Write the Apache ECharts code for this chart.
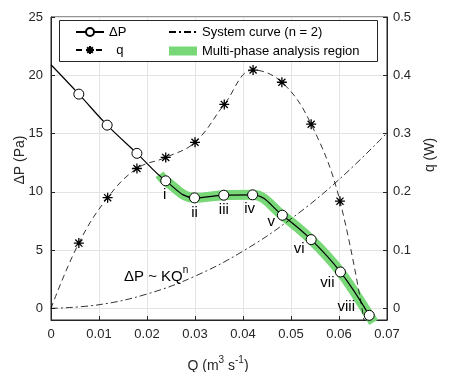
<!DOCTYPE html>
<html>
<head>
<meta charset="utf-8">
<script src="https://cdn.jsdelivr.net/npm/echarts@6/dist/echarts.min.js"></script>
<style>html,body{margin:0;padding:0;background:#fff}#c{width:450px;height:372px}</style>
</head>
<body>
<div id="c"></div>
<script>
// Flow rate Q (m^3 s^-1) and pressure difference ΔP (Pa)
var dpQ = [0, 0.0058, 0.0117, 0.0179, 0.0239, 0.0299, 0.0360, 0.0420, 0.0482, 0.0542, 0.0603, 0.0663];
var dpVal = [20.9, 18.38, 15.72, 13.3, 10.94, 9.48, 9.71, 9.74, 7.99, 5.9, 3.12, -0.6];
var phaseLabels = ['', '', '', '', 'i', 'ii', 'iii', 'iv', 'v', 'vi', 'vii', 'viii'];
// Heat q (W)
var qQ = [0, 0.0058, 0.0118, 0.0179, 0.0239, 0.0300, 0.0361, 0.0421, 0.0481, 0.0542, 0.0602, 0.0662];
var qVal = [0, 0.112, 0.19, 0.24, 0.259, 0.285, 0.35, 0.409, 0.388, 0.316, 0.184, -0.07];
// System curve (n = 2)
var sysQ = [0, 0.01, 0.02, 0.03, 0.04, 0.05, 0.06, 0.07];
var sysVal = [0, 0.31, 1.23, 2.76, 4.91, 7.68, 11.05, 15.05];
// Multi-phase analysis region (band)
var bandQ = [0.0226, 0.0239, 0.0299, 0.0360, 0.0420, 0.0482, 0.0542, 0.0603, 0.0663, 0.0672];
var bandVal = [11.5, 10.94, 9.48, 9.71, 9.74, 7.99, 5.9, 3.12, -0.6, -1.2];
// Tick labels
var leftTicks = [0, 5, 10, 15, 20, 25];
var rightTicks = [0, 0.1, 0.2, 0.3, 0.4, 0.5];

var FONT = 'Liberation Sans, Arial, Helvetica, sans-serif';
var INK = '#262626';
var GREEN = '#78d878';

// label offsets for the roman numerals (position only)
var lblOff = {
  'i': [-1, 14], 'ii': [0, 15], 'iii': [0, 15], 'iv': [-3, 14],
  'v': [-11, 7], 'vi': [-12, 9], 'vii': [-13, 11], 'viii': [-23, -8]
};

var dpData = dpQ.map(function (q, i) {
  var item = { value: [q, dpVal[i]] };
  if (i === 0) item.symbol = 'none';
  var l = phaseLabels[i];
  if (l) {
    item.label = { show: true, formatter: l, position: 'inside', offset: lblOff[l],
      color: '#000', fontSize: 15, fontFamily: FONT };
  }
  return item;
});
var qData = qQ.map(function (q, i) {
  return { value: [q, qVal[i]], symbol: i === 0 || i === qQ.length - 1 ? 'none' : undefined };
});
var sysData = sysQ.map(function (q, i) { return [q, sysVal[i]]; });
var bandData = bandQ.map(function (q, i) { return [q, bandVal[i]]; });

var ASTER = 'path://M5,0L5,10M0,5L10,5M1.46,1.46L8.54,8.54M1.46,8.54L8.54,1.46';

var chart = echarts.init(document.getElementById('c'), null, { renderer: 'canvas' });
chart.setOption({
  animation: false,
  textStyle: { fontFamily: FONT },
  grid: { left: 51, right: 63, top: 17, bottom: 52, show: true, borderColor: INK, borderWidth: 1, backgroundColor: 'transparent' },
  legend: [
    { left: 75, top: 25, padding: 0, orient: 'vertical', align: 'left', itemWidth: 28, itemHeight: 10, itemGap: 4,
      textStyle: { fontSize: 13, color: '#000', lineHeight: 14, fontFamily: FONT },
      formatter: function (n) { return n === 'q' ? '  q' : n; },
      data: ['ΔP', 'q'] },
    { left: 168, top: 25, padding: 0, orient: 'vertical', align: 'left', itemWidth: 28, itemHeight: 9, itemGap: 5,
      textStyle: { fontSize: 13, color: '#000', lineHeight: 14, fontFamily: FONT },
      data: [{ name: 'System curve (n = 2)', itemStyle: { opacity: 0 } },
             { name: 'Multi-phase analysis region', icon: 'rect' }] }
  ],
  graphic: [
    { type: 'rect', z: 3, shape: { x: 59.5, y: 20.5, width: 318, height: 41 },
      style: { fill: '#fff', stroke: INK, lineWidth: 1 } },
    { type: 'text', x: 20, y: 160, rotation: Math.PI / 2, z: 5,
      style: { text: 'ΔP (Pa)', fontSize: 14, fontFamily: FONT, fill: INK, align: 'center', verticalAlign: 'middle' } },
    { type: 'text', x: 430, y: 155, rotation: Math.PI / 2, z: 5,
      style: { text: 'q (W)', fontSize: 14, fontFamily: FONT, fill: INK, align: 'center', verticalAlign: 'middle' } },
    { type: 'text', x: 218, y: 355, z: 5,
      style: { text: '{a|Q (m}{s|3}{a| s}{s|-1}{a|)}', align: 'center', verticalAlign: 'top', fill: INK,
        rich: { a: { fontSize: 14, fontFamily: FONT, color: INK, lineHeight: 18, verticalAlign: 'bottom' },
                s: { fontSize: 10, fontFamily: FONT, color: INK, lineHeight: 11, verticalAlign: 'top' } } } },
    { type: 'text', x: 124, y: 265, z: 5,
      style: { text: '{a|ΔP ~ KQ}{s|n}', align: 'left', verticalAlign: 'top', fill: '#000',
        rich: { a: { fontSize: 15, fontFamily: FONT, color: '#000', lineHeight: 19, verticalAlign: 'bottom' },
                s: { fontSize: 10, fontFamily: FONT, color: '#000', lineHeight: 11, verticalAlign: 'top' } } } }
  ],
  xAxis: {
    type: 'value', min: 0, max: 0.07, interval: 0.01,
    axisLine: { show: true, onZero: false, lineStyle: { color: INK, width: 1 } },
    axisTick: { show: true, inside: true, length: 4, lineStyle: { color: INK } },
    axisLabel: { fontSize: 13, color: INK, margin: 8, fontFamily: FONT,
      formatter: function (v) { return v === 0 ? '0' : v.toFixed(2); } },
    splitLine: { show: true, lineStyle: { color: '#e3e3e3', width: 1 } }
  },
  yAxis: [
    { type: 'value', min: -1, max: 25, position: 'left',
      axisLine: { show: true, onZero: false, lineStyle: { color: INK, width: 1 } },
      axisTick: { show: true, inside: true, length: 4, customValues: leftTicks, lineStyle: { color: INK } },
      axisLabel: { fontSize: 13, color: INK, margin: 8, fontFamily: FONT, customValues: leftTicks },
      splitLine: { show: true, lineStyle: { color: '#e3e3e3', width: 1 } } },
    { type: 'value', min: -0.02, max: 0.5, position: 'right',
      axisLine: { show: true, onZero: false, lineStyle: { color: INK, width: 1 } },
      axisTick: { show: true, inside: true, length: 4, customValues: rightTicks, lineStyle: { color: INK } },
      axisLabel: { fontSize: 13, color: INK, margin: 6, fontFamily: FONT, customValues: rightTicks,
        formatter: function (v) { return v === 0 ? '0' : v.toFixed(1); } },
      splitLine: { show: false } }
  ],
  series: [
    { name: 'Multi-phase analysis region', type: 'line', yAxisIndex: 0, data: bandData, smooth: 0.4,
      showSymbol: false, symbol: 'none', z: 1,
      itemStyle: { color: GREEN },
      lineStyle: { color: GREEN, width: 10, cap: 'butt' } },
    { name: 'System curve (n = 2)', type: 'line', yAxisIndex: 0, data: sysData, smooth: 0.4,
      showSymbol: false, symbol: 'none', z: 2,
      itemStyle: { color: '#000' },
      lineStyle: { color: '#000', width: 0.8, type: [7, 3, 2, 3] } },
    { name: 'q', type: 'line', yAxisIndex: 1, data: qData, smooth: 0.4,
      symbol: ASTER, symbolSize: 10, z: 3,
      itemStyle: { color: 'transparent', borderColor: '#000', borderWidth: 1.3 },
      lineStyle: { color: '#000', width: 0.8, type: [6, 4] } },
    { name: 'ΔP', type: 'line', yAxisIndex: 0, data: dpData, smooth: 0.4,
      symbol: 'circle', symbolSize: 10, z: 4,
      itemStyle: { color: '#fff', borderColor: '#000', borderWidth: 1 },
      lineStyle: { color: '#000', width: 1.2 },
      label: { show: false } }
  ]
});
</script>
</body>
</html>
